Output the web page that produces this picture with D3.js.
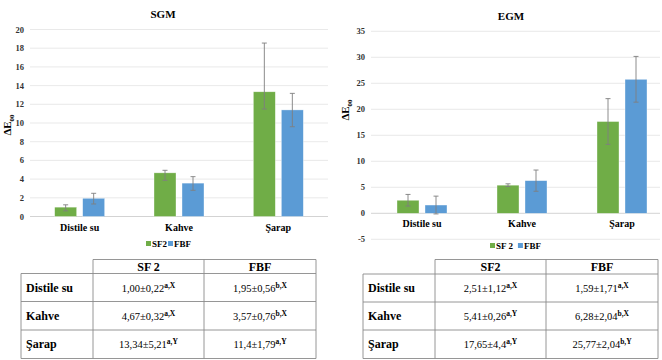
<!DOCTYPE html>
<html>
<head>
<meta charset="utf-8">
<script src="https://cdn.jsdelivr.net/npm/d3@7"></script>
<style>
  body { margin: 0; background: #fff; }
</style>
</head>
<body>
<script>
var categories = ["Distile su", "Kahve", "Şarap"];

// SGM chart
var sgmSF2 = [1.00, 4.67, 13.34];
var sgmFBF = [1.95, 3.57, 11.4];
// error bar ends
var sgmSF2Plus = [0.25, 0.27, 5.21];
var sgmSF2Minus = [0.4, 0.8, 1.84];
var sgmFBFPlus = [0.53, 0.69, 1.77];
var sgmFBFMinus = [0.61, 0.77, 1.8];
var sgmTicks = [0, 2, 4, 6, 8, 10, 12, 14, 16, 18, 20];

// EGM chart
var egmSF2 = [2.51, 5.41, 17.65];
var egmFBF = [1.59, 6.28, 25.77];
var egmSF2Err = [1.12, 0.26, 4.4];
var egmFBFErr = [1.71, 2.04, 4.4];
var egmTicks = [-5, 0, 5, 10, 15, 20, 25, 30, 35];

// tables
var sgmTabSF2 = ["1,00±0,22", "4,67±0,32", "13,34±5,21"];
var sgmSupSF2 = ["a,X", "a,X", "a,Y"];
var sgmTabFBF = ["1,95±0,56", "3,57±0,76", "11,4±1,79"];
var sgmSupFBF = ["b,X", "b,X", "a,Y"];
var egmTabSF2 = ["2,51±1,12", "5,41±0,26", "17,65±4,4"];
var egmSupSF2 = ["a,X", "a,Y", "a,Y"];
var egmTabFBF = ["1,59±1,71", "6,28±2,04", "25,77±2,04"];
var egmSupFBF = ["a,X", "b,X", "b,Y"];

var GREEN = "#70ad47", BLUE = "#5b9bd5";

var svg = d3.select("body").append("svg")
  .attr("width", 662).attr("height", 360)
  .attr("font-family", "'Liberation Serif', 'Times New Roman', serif");

function drawChart(c) {
  var g = svg.append("g");
  var x0 = d3.scaleBand().domain(categories).range(c.xr);
  var x1 = d3.scaleBand().domain(["SF2", "FBF"]).range([0, 50]).paddingInner(6 / 28);
  var y = d3.scaleLinear().domain(c.dom).range(c.yr);

  g.append("text").attr("x", c.titleX).attr("y", c.titleY)
    .attr("text-anchor", "middle").attr("font-weight", "bold").attr("font-size", 11)
    .text(c.title);

  g.selectAll(".grid").data(c.ticks).enter().append("line")
    .attr("x1", c.gx[0]).attr("x2", c.gx[1])
    .attr("y1", function (d) { return y(d); }).attr("y2", function (d) { return y(d); })
    .attr("stroke", function (d) { return d === 0 ? "#c8c8c8" : "#e3e3e3"; })
    .attr("stroke-width", 0.8);

  g.selectAll(".tick").data(c.ticks).enter().append("text")
    .attr("x", c.gx[0] - 6).attr("y", function (d) { return y(d) + 3; })
    .attr("text-anchor", "end").attr("font-weight", "bold").attr("font-size", 8.5)
    .attr("fill", "#333")
    .text(function (d) { return d; });

  var yt = g.append("text")
    .attr("transform", "translate(" + c.ytX + "," + c.ytY + ") rotate(-90)")
    .attr("text-anchor", "middle").attr("font-weight", "bold").attr("font-size", 11);
  yt.append("tspan").text("ΔE");
  yt.append("tspan").attr("font-size", 7).attr("dy", 2.5).text("00");

  var series = [
    { key: "SF2", vals: c.sf2, up: c.sf2Up, dn: c.sf2Dn, col: GREEN },
    { key: "FBF", vals: c.fbf, up: c.fbfUp, dn: c.fbfDn, col: BLUE }
  ];
  series.forEach(function (s) {
    var bars = categories.map(function (cat, i) {
      return { cat: cat, v: s.vals[i], hi: s.vals[i] + s.up[i], lo: s.vals[i] - s.dn[i] };
    });
    function cx(d) { return x0(d.cat) + x0.bandwidth() / 2 - 25 + x1(s.key); }
    g.selectAll(".b" + s.key).data(bars).enter().append("rect")
      .attr("x", cx).attr("width", x1.bandwidth())
      .attr("y", function (d) { return y(d.v); })
      .attr("height", function (d) { return y(0) - y(d.v); })
      .attr("fill", s.col).attr("stroke", "#fff").attr("stroke-opacity", 0.6).attr("stroke-width", 0.6);
    var eb = g.selectAll(".e" + s.key).data(bars).enter().append("g")
      .attr("stroke", "#7f7f7f").attr("stroke-width", 0.9);
    eb.append("line")
      .attr("x1", function (d) { return cx(d) + x1.bandwidth() / 2; })
      .attr("x2", function (d) { return cx(d) + x1.bandwidth() / 2; })
      .attr("y1", function (d) { return y(d.hi); }).attr("y2", function (d) { return y(d.lo); });
    ["hi", "lo"].forEach(function (k) {
      eb.append("line")
        .attr("x1", function (d) { return cx(d) + x1.bandwidth() / 2 - 2.5; })
        .attr("x2", function (d) { return cx(d) + x1.bandwidth() / 2 + 2.5; })
        .attr("y1", function (d) { return y(d[k]); }).attr("y2", function (d) { return y(d[k]); });
    });
  });

  g.selectAll(".cat").data(categories).enter().append("text")
    .attr("x", function (d) { return x0(d) + x0.bandwidth() / 2; })
    .attr("y", c.catY)
    .attr("text-anchor", "middle").attr("font-weight", "bold").attr("font-size", 10)
    .text(function (d) { return d; });

  // legend
  var lg = g.append("g").attr("font-weight", "bold").attr("font-size", 9);
  var lx = c.legX;
  lg.append("rect").attr("x", lx).attr("y", c.legY - 6).attr("width", 5).attr("height", 5).attr("fill", GREEN);
  var t1 = lg.append("text").attr("x", lx + 6).attr("y", c.legY).text(c.legSF2);
  var w1 = t1.node().getComputedTextLength();
  lg.append("rect").attr("x", lx + 6 + w1 + c.legGap).attr("y", c.legY - 6).attr("width", 5).attr("height", 5).attr("fill", BLUE);
  lg.append("text").attr("x", lx + 12 + w1 + c.legGap).attr("y", c.legY).text("FBF");
}

function drawTable(t) {
  var g = svg.append("g");
  var cols = t.cols, rows = t.rows;
  function ln(x1, y1, x2, y2) {
    g.append("line").attr("x1", x1).attr("y1", y1).attr("x2", x2).attr("y2", y2)
      .attr("stroke", "#8a8a8a").attr("stroke-width", 0.9);
  }
  ln(cols[1], rows[0], cols[3], rows[0]);
  for (var r = 1; r < rows.length; r++) ln(cols[0], rows[r], cols[3], rows[r]);
  ln(cols[0], rows[1], cols[0], rows[4]);
  for (var c = 1; c < cols.length; c++) ln(cols[c], rows[0], cols[c], rows[4]);

  [t.h1, "FBF"].forEach(function (h, i) {
    g.append("text").attr("x", (cols[i + 1] + cols[i + 2]) / 2).attr("y", (rows[0] + rows[1]) / 2 + 4)
      .attr("text-anchor", "middle").attr("font-weight", "bold").attr("font-size", 12).text(h);
  });
  categories.forEach(function (cat, i) {
    var cy = (rows[i + 1] + rows[i + 2]) / 2 + 4;
    g.append("text").attr("x", cols[0] + 5).attr("y", cy)
      .attr("font-weight", "bold").attr("font-size", 12).text(cat);
    [[t.sf2, t.sf2s], [t.fbf, t.fbfs]].forEach(function (col, j) {
      var tx = g.append("text").attr("x", (cols[j + 1] + cols[j + 2]) / 2).attr("y", cy)
        .attr("text-anchor", "middle").attr("font-size", 10.5);
      tx.append("tspan").text(col[0][i]);
      tx.append("tspan").attr("font-size", 7.5).attr("font-weight", "bold").attr("dy", -4).text(col[1][i]);
    });
  });
}

drawChart({
  title: "SGM", titleX: 163, titleY: 18,
  xr: [30, 328], gx: [30, 328], dom: [0, 20], yr: [216.5, 29.5], ticks: sgmTicks,
  sf2: sgmSF2, sf2Up: sgmSF2Plus, sf2Dn: sgmSF2Minus,
  fbf: sgmFBF, fbfUp: sgmFBFPlus, fbfDn: sgmFBFMinus,
  ytX: 11, ytY: 125, catY: 231, legX: 146, legY: 247, legGap: 1, legSF2: "SF2"
});

drawChart({
  title: "EGM", titleX: 511, titleY: 20,
  xr: [372, 672], gx: [371, 660], dom: [-5, 35], yr: [239.3, 31.3], ticks: egmTicks,
  sf2: egmSF2, sf2Up: egmSF2Err, sf2Dn: egmSF2Err,
  fbf: egmFBF, fbfUp: egmFBFErr, fbfDn: egmFBFErr,
  ytX: 349, ytY: 110, catY: 227, legX: 490, legY: 249, legGap: 5, legSF2: "SF 2"
});

drawTable({
  cols: [21, 93, 204, 316], rows: [259.5, 273.5, 301.5, 330, 358.5], h1: "SF 2",
  sf2: sgmTabSF2, sf2s: sgmSupSF2, fbf: sgmTabFBF, fbfs: sgmSupFBF
});

drawTable({
  cols: [363, 435, 546, 658], rows: [259.5, 274, 302, 330, 358.5], h1: "SF2",
  sf2: egmTabSF2, sf2s: egmSupSF2, fbf: egmTabFBF, fbfs: egmSupFBF
});
</script>
</body>
</html>
